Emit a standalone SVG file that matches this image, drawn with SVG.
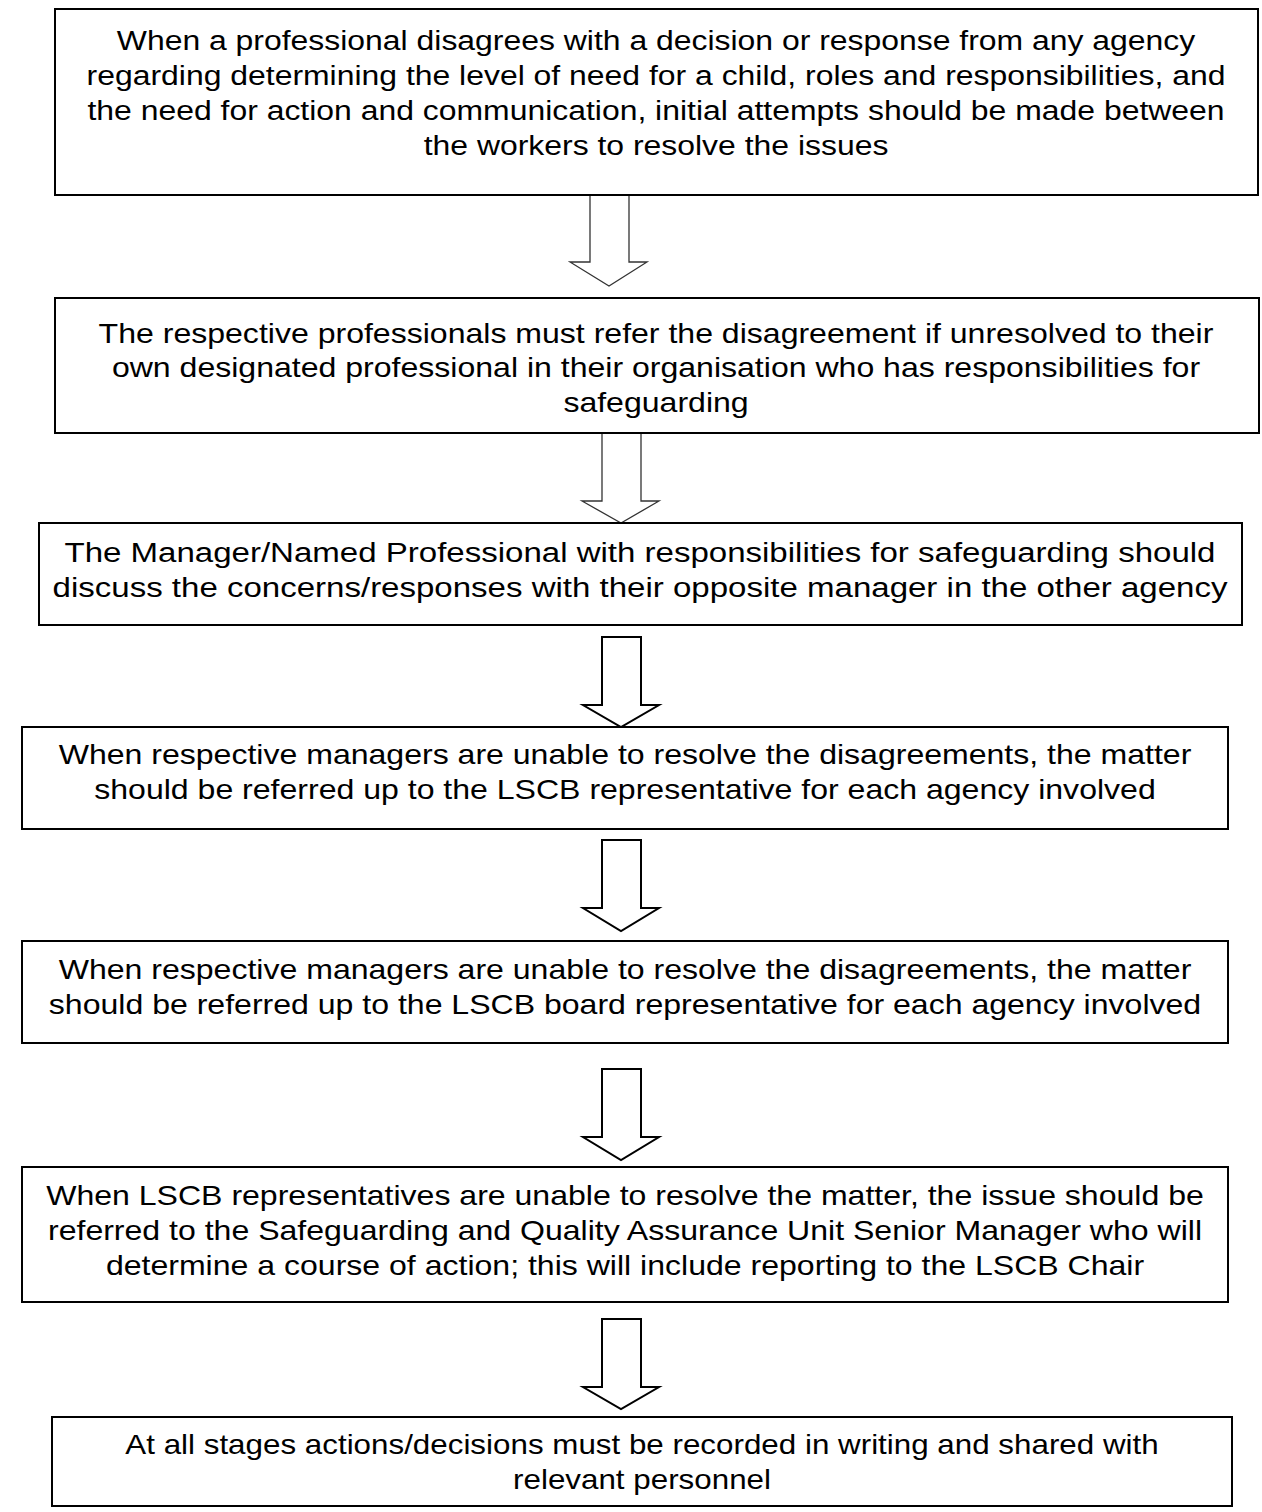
<svg xmlns="http://www.w3.org/2000/svg" width="1262" height="1512" viewBox="0 0 1262 1512">
<style>
.box{fill:#fff;stroke:#000;stroke-width:2}
.t{font-family:"Liberation Sans",Arial,sans-serif;font-size:28px;fill:#000;text-anchor:middle}
.arr{fill:#fff;stroke:#000;stroke-width:2;stroke-linejoin:miter}
.arr.thin{stroke:#333;stroke-width:1.3}
</style>
<rect width="1262" height="1512" fill="#fff"/>
<g id="connectors">
<path class="arr thin" d="M590,195 V262 H570 L609,286 L647,262 H629 V195"/>
<path class="arr thin" d="M602,433 V501 H582 L621,523 L659,501 H641 V433"/>
<path class="arr" d="M602,637 V705 H583 L621,727 L659,705 H641 V637 Z"/>
<path class="arr" d="M602,840 V908 H583 L621,931 L659,908 H641 V840 Z"/>
<path class="arr" d="M602,1069 V1137 H583 L621,1160 L659,1137 H641 V1069 Z"/>
<path class="arr" d="M602,1319 V1387 H583 L621,1409 L659,1387 H641 V1319 Z"/>
</g>
<g id="n1">
<rect class="box" x="55" y="9" width="1203" height="186"/>
<g transform="translate(656 0) scale(1.14 1)">
<text class="t" x="0" y="50">When a professional disagrees with a decision or response from any agency</text>
<text class="t" x="0" y="85">regarding determining the level of need for a child, roles and responsibilities, and</text>
<text class="t" x="0" y="120">the need for action and communication, initial attempts should be made between</text>
<text class="t" x="0" y="155">the workers to resolve the issues</text>
</g>
</g>
<g id="n2">
<rect class="box" x="55" y="298" width="1204" height="135"/>
<g transform="translate(656 0) scale(1.145 1)">
<text class="t" x="0" y="343">The respective professionals must refer the disagreement if unresolved to their</text>
<text class="t" x="0" y="377">own designated professional in their organisation who has responsibilities for</text>
<text class="t" x="0" y="412">safeguarding</text>
</g>
</g>
<g id="n3">
<rect class="box" x="39" y="523" width="1203" height="102"/>
<g transform="translate(640 0) scale(1.18 1)">
<text class="t" x="0" y="562">The Manager/Named Professional with responsibilities for safeguarding should</text>
<text class="t" x="0" y="597">discuss the concerns/responses with their opposite manager in the other agency</text>
</g>
</g>
<g id="n4">
<rect class="box" x="22" y="727" width="1206" height="102"/>
<g transform="translate(625 0) scale(1.145 1)">
<text class="t" x="0" y="764">When respective managers are unable to resolve the disagreements, the matter</text>
<text class="t" x="0" y="799">should be referred up to the LSCB representative for each agency involved</text>
</g>
</g>
<g id="n5">
<rect class="box" x="22" y="941" width="1206" height="102"/>
<g transform="translate(625 0) scale(1.145 1)">
<text class="t" x="0" y="979">When respective managers are unable to resolve the disagreements, the matter</text>
<text class="t" x="0" y="1014">should be referred up to the LSCB board representative for each agency involved</text>
</g>
</g>
<g id="n6">
<rect class="box" x="22" y="1167" width="1206" height="135"/>
<g transform="translate(625 0) scale(1.145 1)">
<text class="t" x="0" y="1205">When LSCB representatives are unable to resolve the matter, the issue should be</text>
<text class="t" x="0" y="1240">referred to the Safeguarding and Quality Assurance Unit Senior Manager who will</text>
<text class="t" x="0" y="1275">determine a course of action; this will include reporting to the LSCB Chair</text>
</g>
</g>
<g id="n7">
<rect class="box" x="52" y="1417" width="1180" height="89"/>
<g transform="translate(642 0) scale(1.12 1)">
<text class="t" x="0" y="1454">At all stages actions/decisions must be recorded in writing and shared with</text>
<text class="t" x="0" y="1489">relevant personnel</text>
</g>
</g>
</svg>
